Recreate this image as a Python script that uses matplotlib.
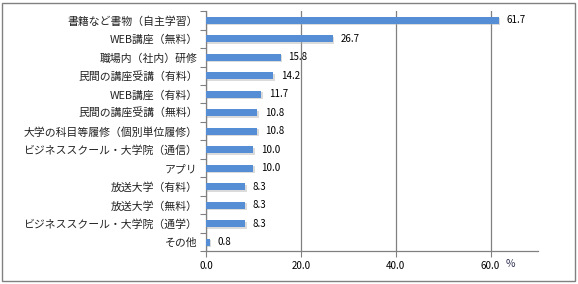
import matplotlib
matplotlib.use("Agg")
import matplotlib.pyplot as plt
from matplotlib.patches import Rectangle
import numpy as np

plt.rcParams['font.family'] = ['Noto Sans CJK JP', 'DejaVu Sans']

categories = ["書籍など書物（自主学習）", "WEB講座（無料）", "職場内（社内）研修",
              "民間の講座受講（有料）", "WEB講座（有料）", "民間の講座受講（無料）",
              "大学の科目等履修（個別単位履修）", "ビジネススクール・大学院（通信）",
              "アプリ", "放送大学（有料）", "放送大学（無料）",
              "ビジネススクール・大学院（通学）", "その他"]
values = [61.7, 26.7, 15.8, 14.2, 11.7, 10.8, 10.8, 10.0, 10.0, 8.3, 8.3, 8.3, 0.8]
xticks = [0, 20, 40, 60]

fig = plt.figure(figsize=(5.78, 2.84), dpi=100)
fig.patches.append(Rectangle((0.004, 0.01), 0.991, 0.98, transform=fig.transFigure,
                             fill=False, edgecolor='#808080', linewidth=1.0))
ax = fig.add_axes([0.3564, 0.115, 0.5744, 0.846])

y = np.arange(len(categories))
bar_h = 0.38
# shadow
ax.barh(y + 0.08, values, height=bar_h, left=0.3, color='#b0b0b0', alpha=0.45, zorder=2)
ax.barh(y, values, height=bar_h, color='#558ED5', zorder=3)

for yi, v in zip(y, values):
    ax.text(v + 1.6, yi, f"{v:.1f}", va='center', ha='left', fontsize=7,
            color='#000000', zorder=4)

ax.set_xlim(0, 70)
ax.set_ylim(len(categories) - 0.5, -0.5)
ax.set_xticks(xticks)
ax.set_xticklabels([f"{t:.1f}" for t in xticks], fontsize=7)
ax.set_yticks(y)
ax.set_yticklabels(categories, fontsize=7.8, color='#222222')
ax.set_yticks(np.arange(len(categories) + 1) - 0.5, minor=True)
ax.tick_params(axis='y', which='major', length=0, pad=6)
ax.tick_params(axis='y', which='minor', length=4, color='#808080', width=0.8)
ax.tick_params(axis='x', which='major', length=4, color='#808080', width=0.8, pad=3)

ax.grid(axis='x', color='#808080', linewidth=0.9, zorder=0)
ax.set_axisbelow(True)
for s in ['top', 'right']:
    ax.spines[s].set_visible(False)
for s in ['left', 'bottom']:
    ax.spines[s].set_color('#808080')
    ax.spines[s].set_linewidth(0.9)

fig.text(510 / 578, 1 - 264 / 284, "%", fontsize=7.5, color='#333355', ha='center', va='center')

fig.savefig("out.png", dpi=100)
